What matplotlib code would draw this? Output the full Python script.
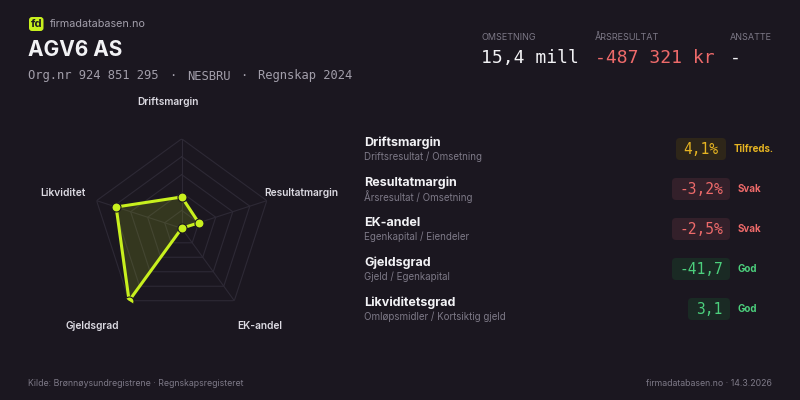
import numpy as np
import matplotlib
matplotlib.use("Agg")
from matplotlib import pyplot as plt
from matplotlib.patches import FancyBboxPatch

# Company header data
company = "AGV6 AS"
subline_parts = ["Org.nr 924 851 295", "·", "NESBRU", "·", "Regnskap 2024"]
kpi_labels = ["OMSETNING", "ÅRSRESULTAT", "ANSATTE"]
kpi_values = ["15,4 mill", "-487 321 kr", "-"]

# Radar data (normalised scores 0..1)
radar_axes = ["Driftsmargin", "Resultatmargin", "EK-andel", "Gjeldsgrad", "Likviditet"]
radar_scores = [0.35, 0.20, 0.0, 1.0, 0.77]

# Key figures table
metric_names = ["Driftsmargin", "Resultatmargin", "EK-andel", "Gjeldsgrad", "Likviditetsgrad"]
metric_formulas = ["Driftsresultat / Omsetning", "Årsresultat / Omsetning",
                   "Egenkapital / Eiendeler", "Gjeld / Egenkapital",
                   "Omløpsmidler / Kortsiktig gjeld"]
metric_values = ["4,1%", "-3,2%", "-2,5%", "-41,7", "3,1"]
metric_status = ["Tilfreds.", "Svak", "Svak", "God", "God"]

footer_left = "Kilde: Brønnøysundregistrene · Regnskapsregisteret"
footer_right = "firmadatabasen.no · 14.3.2026"

# Colours
BG = "#1b1720"
LIME = "#c8f01e"
GRID = "#2d2935"
WHITE = "#f2f2f5"
GRAY = "#a29eaa"
DIM = "#7d7987"
status_colors = {"Tilfreds.": "#e6b422", "Svak": "#ee6a6a", "God": "#4cd07d"}
status_boxes = {"Tilfreds.": "#2e2619", "Svak": "#33202a", "God": "#1a2a24"}

SANS = ["Inter", "DejaVu Sans"]
MONO = ["DejaVu Sans Mono"]

fig = plt.figure(figsize=(8, 4), dpi=100, facecolor=BG)
bg = fig.add_axes([0, 0, 1, 1])
bg.set_xlim(0, 800)
bg.set_ylim(400, 0)
bg.set_axis_off()
bg.set_facecolor(BG)

# Header
bg.add_patch(FancyBboxPatch((29, 17), 14.5, 14, boxstyle="round,pad=0,rounding_size=3",
                            fc=LIME, ec="none"))
bg.text(36.2, 24.3, "fd", family=SANS, fontsize=8, color=BG, ha="center", va="center",
        weight="bold")
bg.text(50, 24, "firmadatabasen.no", family=SANS, fontsize=7.8, color=GRAY, va="center")
bg.text(28, 50, company, family=SANS, fontsize=15, color=WHITE, va="center", weight="bold")
sub_x = [28, 169, 187, 240, 258]
for x, part in zip(sub_x, subline_parts):
    bg.text(x, 76, part, family=MONO, fontsize=8.7, color=GRAY, va="center")

kpi_x = [481, 595, 730]
for i in range(len(kpi_labels)):
    bg.text(kpi_x[i], 38, kpi_labels[i], family=SANS, fontsize=6.5, color=DIM, va="center")
    col = "#ee6a6a" if kpi_values[i].startswith("-") and len(kpi_values[i]) > 1 else WHITE
    bg.text(kpi_x[i], 58, kpi_values[i], family=MONO, fontsize=13, color=col, va="center")

# Radar chart
cx, cy, R = 181.7, 228.3, 89.5
rax = fig.add_axes([(cx - R) / 800, (400 - cy - R) / 400, 2 * R / 800, 2 * R / 400],
                   projection="polar")
rax.set_theta_offset(np.pi / 2)
rax.set_theta_direction(-1)
rax.set_ylim(0, 1)
rax.set_axis_off()
rax.patch.set_alpha(0)

n = len(radar_axes)
angles = np.linspace(0, 2 * np.pi, n, endpoint=False)
closed = np.concatenate([angles, angles[:1]])
for level in [0.2, 0.4, 0.6, 0.8, 1.0]:
    rax.plot(closed, [level] * (n + 1), color=GRID, lw=0.8, zorder=1)
for a in angles:
    rax.plot([a, a], [0, 1], color=GRID, lw=0.8, zorder=1)

vals = radar_scores + radar_scores[:1]
rax.fill(closed, vals, color=LIME, alpha=0.15, lw=0, zorder=2)
rax.plot(closed, vals, color=LIME, lw=2.2, zorder=3)
rax.plot(angles, radar_scores, "o", color=LIME, ms=6.5, mec=BG, mew=0.8, zorder=4)

label_pos = [(168, 102, "center"), (264, 193, "left"), (260, 326, "center"),
             (92, 326, "center"), (86, 193, "right")]
for name, (x, y, ha) in zip(radar_axes, label_pos):
    bg.text(x, y, name, family=SANS, fontsize=7.3, color="#dcdae2", ha=ha, va="center",
            weight="semibold")

# Metrics list
box_left = [676, 672, 672, 672, 688]
box_right = [726, 730, 730, 730, 730]
status_x = [734, 738, 738, 738, 738]
for i in range(len(metric_names)):
    y0 = 143 + 40 * i
    bg.text(364, y0, metric_names[i], family=SANS, fontsize=9, color=WHITE, va="center",
            weight="bold")
    bg.text(364, y0 + 14, metric_formulas[i], family=SANS, fontsize=7, color=DIM,
            va="center")
    st = metric_status[i]
    yc = 149 + 40 * i
    bg.add_patch(FancyBboxPatch((box_left[i], yc - 11), box_right[i] - box_left[i], 22,
                                boxstyle="round,pad=0,rounding_size=4",
                                fc=status_boxes[st], ec="none"))
    bg.text((box_left[i] + box_right[i]) / 2, yc, metric_values[i], family=MONO,
            fontsize=10.5, color=status_colors[st], ha="center", va="center")
    bg.text(status_x[i], yc, st, family=SANS, fontsize=7, color=status_colors[st],
            va="center", weight="bold")

# Footer
bg.text(28, 383, footer_left, family=SANS, fontsize=6.3, color=DIM, va="center")
bg.text(772, 383, footer_right, family=SANS, fontsize=6.3, color=DIM, va="center",
        ha="right")

fig.savefig("out.png", dpi=100, facecolor=BG)
